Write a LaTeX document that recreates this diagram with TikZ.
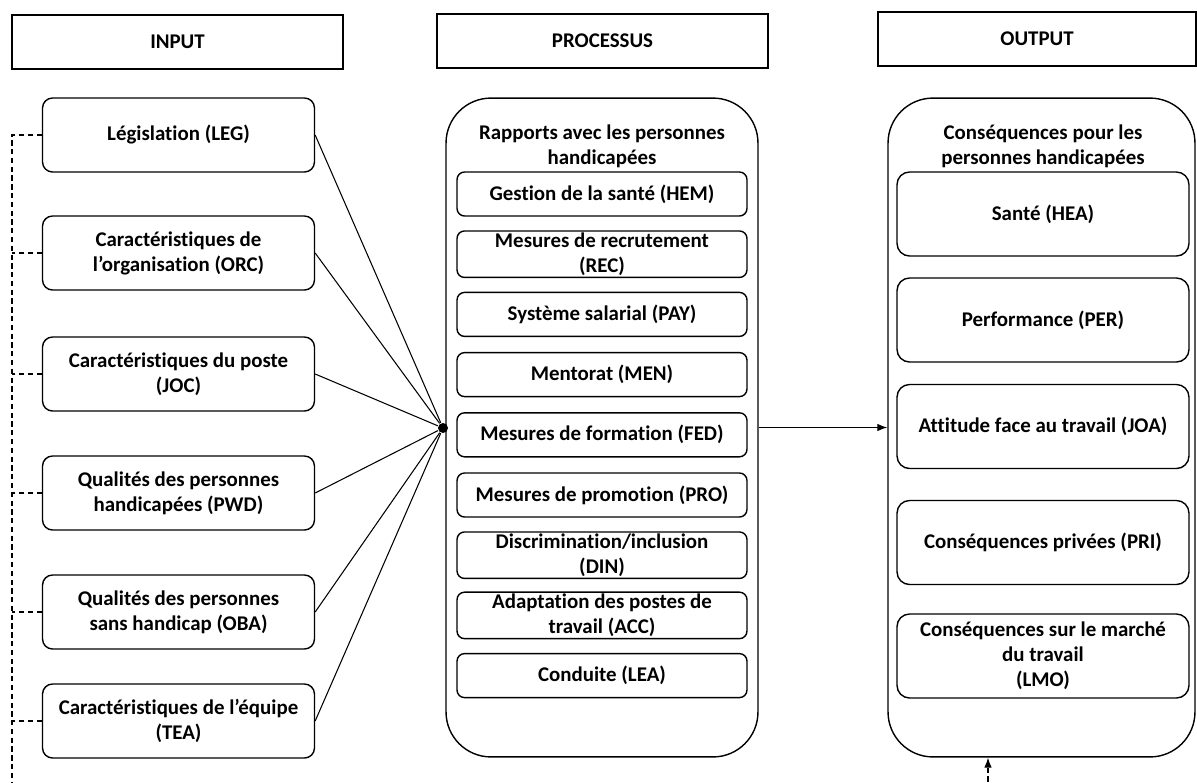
\documentclass[tikz,border=0pt]{standalone}
\usepackage{fontspec}
\setmainfont{Carlito}[Ligatures=NoCommon]
\usetikzlibrary{arrows.meta}
\tikzset{
    >=Latex,
    every node/.style={font=\fontsize{11.9}{14.3}\selectfont\bfseries, align=center},
    link/.style={draw, line width=0.6pt},
    feedback/.style={draw, line width=0.6pt, dash pattern=on 3pt off 2pt}
}

\begin{document}
\begin{tikzpicture}[x=0.02cm, y=-0.02cm, line width=0.8pt,
                    header/.style={draw, rectangle, minimum height=1.08cm},
                    factor/.style={draw, rounded corners=0.2cm, minimum width=5.44cm, minimum height=1.48cm},
                    group/.style={draw, rounded corners=0.9cm, minimum height=13.18cm},
                    measure/.style={draw, rounded corners=0.15cm, minimum width=5.8cm, minimum height=0.88cm, inner sep=1pt},
                    result/.style={draw, rounded corners=0.25cm, minimum width=5.84cm, minimum height=1.68cm}]

\useasboundingbox (0,0) rectangle (1197,782);

% Headers
\node[header, minimum width=6.62cm] (hin) at (177.5,42) {INPUT};
\node[header, minimum width=6.62cm] (hproc) at (602.5,41) {PROCESSUS};
\node[header, minimum width=6.36cm] (hout) at (1037,39) {OUTPUT};

% Input factors
\node[factor] (leg) at (178.5,135) {Législation (LEG)};
\node[factor] (orc) at (178.5,253) {Caractéristiques de\\l’organisation (ORC)};
\node[factor] (joc) at (178.5,374) {Caractéristiques du poste\\(JOC)};
\node[factor] (pwd) at (178.5,493) {Qualités des personnes\\handicapées (PWD)};
\node[factor] (oba) at (178.5,612) {Qualités des personnes\\sans handicap (OBA)};
\node[factor] (tea) at (178.5,721) {Caractéristiques de l’équipe\\(TEA)};

% Process
\node[group, minimum width=6.24cm] (proc) at (602,427.5) {};
\node (ptitle) at (602,146) {Rapports avec les personnes\\handicapées};
\node[measure] (hem) at (602,194) {Gestion de la santé (HEM)};
\node[measure] (rec) at (602,254.2) {Mesures de recrutement\\(REC)};
\node[measure] (pay) at (602,314.4) {Système salarial (PAY)};
\node[measure] (men) at (602,374.6) {Mentorat (MEN)};
\node[measure] (fed) at (602,434.8) {Mesures de formation (FED)};
\node[measure] (pro) at (602,495) {Mesures de promotion (PRO)};
\node[measure] (din) at (602,555.2) {Discrimination/inclusion\\(DIN)};
\node[measure] (acc) at (602,615.4) {Adaptation des postes de\\travail (ACC)};
\node[measure] (lea) at (602,675.6) {Conduite (LEA)};

% Output
\node[group, minimum width=6.14cm] (out) at (1041.5,427.5) {};
\node (otitle) at (1043,146.5) {Conséquences pour les\\personnes handicapées};
\node[result] (hea) at (1043,214) {Santé (HEA)};
\node[result] (per) at (1043,320) {Performance (PER)};
\node[result] (joa) at (1043,426.5) {Attitude face au travail (JOA)};
\node[result] (pri) at (1043,542.5) {Conséquences privées (PRI)};
\node[result] (lmo) at (1043,656) {Conséquences sur le marché\\du travail\\(LMO)};

% Links
\node[circle, fill, inner sep=0pt, minimum size=0.2cm] (hub) at (443,428) {};
\foreach \f in {leg,orc,joc,pwd,oba,tea}
    \path[link] (\f.east) -- (hub);
\path[link,->] (proc.east) -- (out.west);

% Feedback
\coordinate (fbl) at (12,790);
\coordinate (fbr) at (988,790);
\path[feedback,->] (leg.west) -| (fbl) -- (fbr) -- (out.south -| fbr);
\foreach \f in {orc,joc,pwd,oba,tea}
    \path[feedback] (\f.west) -- (\f.west -| fbl);

\end{tikzpicture}
\end{document}
